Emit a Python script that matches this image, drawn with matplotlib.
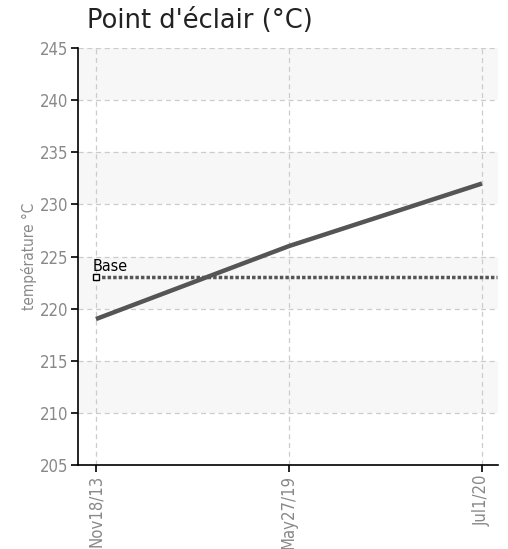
import matplotlib.pyplot as plt
import numpy as np

# data
dates = ["Nov18/13", "May27/19", "Jul1/20"]
flash_point = [219, 226, 232]
base_value = 223
y_ticks = [205, 210, 215, 220, 225, 230, 235, 240, 245]

narrow = dict(family="DejaVu Sans", stretch="condensed")

fig = plt.figure(figsize=(5.08, 5.49), dpi=100)
ax = fig.add_axes([78 / 508, 1 - 465 / 549, 420 / 508, 417 / 549])

x = np.arange(len(dates))

# alternating background bands
for lo in range(210, 245, 10):
    ax.axhspan(lo, lo + 5, color="#f7f7f7", zorder=0, lw=0)

ax.plot(x, flash_point, color="#555555", lw=3.2, solid_capstyle="butt", zorder=3)
ax.plot([x[0], x[-1] + 0.08], [base_value, base_value], color="#555555", lw=2.5,
        linestyle=(0, (1, 0.6)), zorder=3)
ax.plot([x[0]], [base_value], marker="s", ms=5, mfc="white", mec="black", mew=1, zorder=4)
ax.text(x[0] - 0.015, base_value + 0.35, "Base", fontsize=11.5, color="black",
        va="bottom", ha="left", **narrow)

ax.set_xlim(-0.093, 2.083)
ax.set_ylim(205, 245)
ax.set_xticks(x)
ax.set_xticklabels(dates, rotation=90, fontsize=12, color="#888888", **narrow)
ax.set_yticks(y_ticks)
ax.set_yticklabels([str(v) for v in y_ticks], fontsize=12, color="#888888", **narrow)
ax.grid(True, color="#cccccc", linestyle=(0, (4, 3)), lw=0.9)
ax.set_axisbelow(True)

for s in ["top", "right"]:
    ax.spines[s].set_visible(False)
ax.spines["left"].set_linewidth(1.2)
ax.spines["bottom"].set_linewidth(1.2)
ax.tick_params(length=5, width=1.2, direction="out", pad=2)

ax.set_ylabel("température °C", fontsize=11, color="#888888", labelpad=2, **narrow)
fig.text(87 / 508, 1 - 21 / 549, "Point d'éclair (°C)", fontsize=18.5, color="#222222",
         va="center", ha="left")

fig.savefig("out.png", dpi=100)
